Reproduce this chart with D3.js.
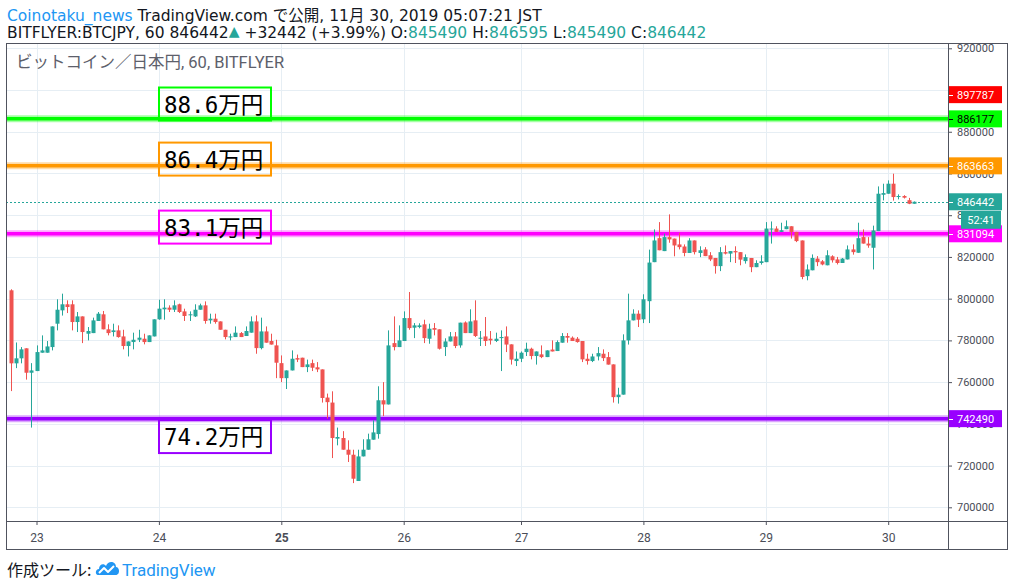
<!DOCTYPE html>
<html><head><meta charset="utf-8">
<script src="https://cdn.jsdelivr.net/npm/d3@7/dist/d3.min.js"></script>
<style>
html,body{margin:0;padding:0;background:#fff;}
svg{display:block;font-family:Roboto,"Noto Sans CJK JP",sans-serif;}
</style></head>
<body>
<script>
// ---------- DATA ----------
const opens = [804000,769000,771400,776200,764500,765300,774100,774100,776800,788000,
794400,797300,797300,788800,791500,783200,783500,789300,792500,785300,
784000,784800,781900,777300,779200,780300,780800,779200,781900,790100,
794900,795700,794700,797300,793900,792100,791500,794700,796800,789600,
790400,789100,785100,781600,781600,783500,782100,783700,789100,776300,
784300,779700,777600,769100,761900,765600,771500,771700,767200,769100,
767100,766100,752600,750200,732900,733200,727600,725200,712600,724400,
727600,732400,735100,751300,749300,778700,776800,779700,790700,786100,
786400,787700,780800,785900,785300,776800,779500,781900,777600,788600,
783500,789600,780800,781900,780800,779700,781100,781900,778100,770100,
771200,774400,776000,772500,773300,772000,775600,774900,778900,782100,
781300,780800,779700,771200,770100,772300,773600,772000,768500,752800,
754000,780000,789600,792800,790100,798800,817500,829000,822800,829500,
828800,826000,825000,821900,827900,821900,823600,820800,819500,815600,
822300,821600,822800,822300,818000,819500,815100,817100,817500,833400,
833600,832000,833300,834700,832000,827900,810800,813600,819200,817900,
816000,820300,818800,817100,818800,823600,822000,829500,826400,824400,
832400,849800,850300,855100,848900,849200,847200,845490];
const highs = [804500,779000,776800,776200,769100,777600,782400,779700,786700,799700,
802400,799200,799200,793600,791500,786400,790900,793600,794100,787700,
788000,787200,785100,779500,783700,785100,783200,782400,790100,799500,
799700,796800,799200,797600,795200,793900,797300,797600,798700,792800,
792800,789100,785100,783200,786700,784000,786700,791500,792000,790900,
786700,783200,780300,772800,765600,775200,773200,771700,770800,770800,
769600,766100,754500,755600,738200,736500,732100,727600,727600,732600,
735300,741700,758000,760000,784800,791500,787200,793900,803200,788300,
788200,789900,788000,788300,785300,781000,784000,784000,788500,789100,
794900,799200,784500,791200,784500,783700,784800,786700,778100,774700,
774700,778900,776500,774700,777600,775200,780000,780000,783500,783500,
781900,781600,779700,773600,773600,776800,775700,774400,768500,757300,
782900,802400,794900,794400,802100,823500,833200,836700,831200,840400,
828800,831600,826000,829000,827900,825100,824700,822300,819500,824700,
825500,822800,825100,822300,821200,819500,818400,820800,836700,837000,
834700,836400,837500,834700,832000,827900,816400,821200,820400,818500,
823200,820800,820000,819500,825500,826000,836400,833200,829500,835000,
853800,855100,856700,859900,850000,849600,848300,846595];
const lows = [755700,766700,769000,761200,738200,765300,774100,774100,775200,784800,
791900,793100,784800,784000,778700,780000,783500,789300,785300,782400,
781900,781300,775700,772300,775700,779200,778100,779200,781900,789900,
789900,793600,793600,793100,789300,789300,791200,794700,788000,788000,
788000,785100,780500,780000,781600,781600,782100,783700,773600,775700,
778900,778000,761900,760000,756700,765600,769600,767200,764800,765300,
764800,750200,742500,723600,729700,727600,721700,711600,712600,724400,
727600,732400,732900,743700,749300,775200,776800,779700,785100,781100,
785800,778700,778400,782400,775600,772500,779500,776300,776500,783500,
783500,781600,777300,777300,778000,779200,765300,774400,768400,767700,
769600,772500,770900,768400,771500,772000,774700,774900,778900,778900,
779700,778900,769600,768400,769600,770400,770100,768400,750200,749700,
754000,778000,789600,786400,788300,788300,817500,823200,822800,826800,
820300,823600,820300,821900,821200,819900,820400,818000,812000,813200,
821200,817500,817100,816000,816800,812700,815100,816300,817500,826400,
832000,832000,833300,828800,827100,809300,808800,813600,815600,816000,
816000,817300,816400,817100,818800,821100,822000,826400,824400,814000,
832400,847100,850300,847000,847600,848000,845300,845490];
const closes = [769000,771400,775700,764500,765600,774400,775200,777100,786700,794700,
797300,796000,788800,791500,784000,784500,789600,792800,785300,783500,
784800,781600,777300,779500,780300,781300,779200,782400,790100,795200,
795700,794700,796800,793600,791700,792500,794700,796800,789300,790400,
788800,785100,781600,781900,783700,781600,784500,789100,776300,784300,
778900,778000,769300,761900,765600,771200,770800,767200,768500,766900,
766100,752400,750400,733200,733700,727600,725200,713700,724400,727600,
732600,735900,751300,749300,777600,776800,780000,790700,785900,787200,
787200,781100,785600,785100,776000,779500,781900,777300,788500,783500,
789100,782100,781300,779700,780000,780800,781600,778000,770800,771200,
774100,776000,772500,774700,772000,775200,774700,779200,782100,781300,
779700,779200,770900,770100,772300,773900,771500,768400,752800,754000,
780000,789600,792800,789900,799700,817300,827900,823200,829500,828400,
825500,824700,821900,827900,822300,823200,820400,818800,815600,822300,
821600,822800,822200,818700,819900,815100,817100,817900,833600,833600,
832000,832800,834700,832000,827600,810400,814000,819500,817500,816400,
820800,818400,817100,819200,823600,822300,829000,826400,825500,832700,
850300,850600,855100,848700,849200,848400,845490,846442];

const yTicks = [700000,720000,740000,760000,780000,800000,820000,840000,860000,880000,900000,920000];
const dayLabels = ["23","24","25","26","27","28","29","30"];
const dayCandle = [5,29,53,77,100,124,148,172];
const weekStartLabel = "25";

const levelValues = [886177, 863663, 831094, 742490];
const levelColors = ["#00ff00", "#ff9800", "#ff00ff", "#9900ff"];
const levelTextColors = ["#000000", "#ffffff", "#ffffff", "#ffffff"];
const noteTexts = ["88.6万円", "86.4万円", "83.1万円", "74.2万円"];
const noteCenters = [893300, 866900, 834300, 733900];
const alertValue = 897787;
const countdown = "52:41";
const change = 32442, changePct = 3.99;

// ---------- LAYOUT ----------
const W = 1014, H = 586;
const L = 6, R = 948, T = 43, B = 521, AXR = 1007, AXB = 549;
const UP = "#26a69a", DN = "#ef5350", GRID = "#e6eef4", BORDER = "#50535e", TXT = "#131722";
const HEADFONT = '"DejaVu Sans","Noto Sans CJK JP",sans-serif';

const n = opens.length;
const svg = d3.select("body").append("svg").attr("width", W).attr("height", H);
svg.append("rect").attr("width", W).attr("height", H).attr("fill", "#fff");

const x = d3.scaleLinear().domain([0, n - 1]).range([11, 913.7]);
const y = d3.scaleLinear().domain([700000, 920000]).range([507.3, 48.3]);

svg.append("clipPath").attr("id", "plot").append("rect")
  .attr("x", L).attr("y", T).attr("width", R - L).attr("height", B - T);
const plot = svg.append("g").attr("clip-path", "url(#plot)");

// grid
plot.selectAll("line.hg").data(yTicks).join("line")
  .attr("x1", L).attr("x2", R)
  .attr("y1", d => Math.round(y(d)) + 0.5).attr("y2", d => Math.round(y(d)) + 0.5)
  .attr("stroke", GRID).attr("stroke-width", 1);
plot.selectAll("line.vg").data(dayCandle).join("line")
  .attr("y1", T).attr("y2", B)
  .attr("x1", d => Math.round(x(d)) + 0.5).attr("x2", d => Math.round(x(d)) + 0.5)
  .attr("stroke", GRID).attr("stroke-width", 1);

// horizontal level lines
levelValues.forEach((v, i) => {
  const yy = y(v);
  plot.append("line").attr("x1", L).attr("x2", R).attr("y1", yy).attr("y2", yy)
    .attr("stroke", levelColors[i]).attr("stroke-opacity", 0.35).attr("stroke-width", 7);
  plot.append("line").attr("x1", L).attr("x2", R).attr("y1", yy).attr("y2", yy)
    .attr("stroke", levelColors[i]).attr("stroke-width", 3.5);
});

// last price dashed line
const lastClose = closes[n - 1];
plot.append("line").attr("x1", L).attr("x2", R)
  .attr("y1", Math.round(y(lastClose)) + 0.5).attr("y2", Math.round(y(lastClose)) + 0.5)
  .attr("stroke", UP).attr("stroke-width", 1).attr("stroke-dasharray", "2,2");

// candles
const idx = d3.range(n);
const candles = plot.append("g");
candles.selectAll("line.wick").data(idx).join("line")
  .attr("x1", i => Math.round(x(i)) + 0.5).attr("x2", i => Math.round(x(i)) + 0.5)
  .attr("y1", i => y(highs[i])).attr("y2", i => y(lows[i]))
  .attr("stroke", i => closes[i] >= opens[i] ? UP : DN).attr("stroke-width", 1);
candles.selectAll("rect.body").data(idx).join("rect")
  .attr("x", i => Math.round(x(i)) - 1.5)
  .attr("width", 4)
  .attr("y", i => Math.min(y(opens[i]), y(closes[i])))
  .attr("height", i => Math.max(1, Math.abs(y(opens[i]) - y(closes[i]))))
  .attr("fill", i => closes[i] >= opens[i] ? UP : DN);

// note boxes
const noteFont = '"DejaVu Sans Mono","Noto Sans CJK JP",monospace';
noteTexts.forEach((t, i) => {
  const cy = y(noteCenters[i]);
  plot.append("rect").attr("x", 159).attr("y", cy - 16.5).attr("width", 112).attr("height", 33)
    .attr("fill", "none").attr("stroke", levelColors[i]).attr("stroke-width", 2);
  plot.append("text").attr("x", 164).attr("y", cy + 8.5).text(t)
    .attr("font-family", noteFont).attr("font-size", 22.5).attr("fill", "#000");
});

// symbol title inside chart
svg.append("text").attr("x", 16).attr("y", 68).text("ビットコイン／日本円, 60, BITFLYER")
  .attr("font-size", 16.5).attr("fill", "#5d606b");

// price-label boxes (value, background, text colour) drawn over the axis
const labelBoxes = [[alertValue, "#ff0000", "#ffffff"]]
  .concat(levelValues.map((v, i) => [v, levelColors[i], levelTextColors[i]]))
  .concat([[lastClose, UP, "#ffffff"]]);
const LBH = 17;

// axes
const yAxis = d3.axisRight(y).tickValues(yTicks).tickSize(4).tickPadding(5).tickFormat(d3.format("d"));
const ya = svg.append("g").attr("transform", `translate(${R},0)`).call(yAxis);
ya.select(".domain").remove();
ya.selectAll("line").attr("stroke", BORDER);
ya.selectAll("text").attr("font-size", 11).attr("fill", "#4a4d57").attr("font-family", "Roboto, sans-serif");
// tick labels fully hidden behind a price-label box are not drawn
ya.selectAll(".tick").filter(d => labelBoxes.some(b => Math.abs(y(b[0]) - y(d)) < 5)).select("text").remove();

const xAxis = d3.axisBottom(x).tickValues(dayCandle).tickSize(4).tickPadding(8)
  .tickFormat((d, i) => dayLabels[i]);
const xa = svg.append("g").attr("transform", `translate(0,${B})`).call(xAxis);
xa.select(".domain").remove();
xa.selectAll("line").attr("stroke", BORDER);
xa.selectAll("text").attr("font-size", 12).attr("fill", "#4a4d57").attr("font-family", "Roboto, sans-serif")
  .attr("font-weight", (d, i) => dayLabels[i] === weekStartLabel ? "bold" : "normal");

// borders
const bd = svg.append("g").attr("stroke", BORDER).attr("stroke-width", 1).attr("fill", "none");
bd.append("rect").attr("x", L + 0.5).attr("y", T + 0.5).attr("width", AXR - L).attr("height", AXB - T);
bd.append("line").attr("x1", R + 0.5).attr("x2", R + 0.5).attr("y1", T).attr("y2", AXB);
bd.append("line").attr("x1", L).attr("x2", AXR).attr("y1", B + 0.5).attr("y2", B + 0.5);

// price labels on axis
labelBoxes.forEach(([v, bg, fg]) => {
  const cy = y(v);
  svg.append("rect").attr("x", R + 1).attr("y", cy - LBH / 2).attr("width", 53).attr("height", LBH).attr("fill", bg);
  svg.append("line").attr("x1", R + 1).attr("x2", R + 5).attr("y1", Math.round(cy) + 0.5).attr("y2", Math.round(cy) + 0.5)
    .attr("stroke", fg).attr("stroke-width", 1);
  svg.append("text").attr("x", R + 9).attr("y", cy + 4).text(v)
    .attr("font-size", 11).attr("fill", fg).attr("font-family", "Roboto, sans-serif");
});
const cdY = y(lastClose) + 9;
svg.append("rect").attr("x", 961).attr("y", cdY).attr("width", 40).attr("height", 18).attr("fill", UP);
svg.append("text").attr("x", 981).attr("y", cdY + 13).attr("text-anchor", "middle").text(countdown)
  .attr("font-size", 11).attr("fill", "#fff").attr("font-family", "Roboto, sans-serif");

// header
const fmt = d3.format("d");
const h1 = svg.append("text").attr("x", 7).attr("y", 21).attr("font-size", 15.5).attr("fill", TXT)
  .attr("font-family", HEADFONT);
h1.append("tspan").text("Coinotaku_news").attr("fill", "#2196f3");
h1.append("tspan").text(" TradingView.com で公開, 11月 30, 2019 05:07:21 JST");

const h2 = svg.append("text").attr("x", 7).attr("y", 38).attr("font-size", 15.5).attr("fill", TXT)
  .attr("font-family", HEADFONT);
h2.append("tspan").text("BITFLYER:BTCJPY, 60 " + fmt(lastClose));
h2.append("tspan").text("▲").attr("fill", UP).attr("font-size", 14).attr("dy", -2);
h2.append("tspan").text(" +" + change + " (+" + changePct + "%) O:").attr("dy", 2);
h2.append("tspan").text(fmt(opens[n - 1])).attr("fill", UP);
h2.append("tspan").text(" H:");
h2.append("tspan").text(fmt(highs[n - 1])).attr("fill", UP);
h2.append("tspan").text(" L:");
h2.append("tspan").text(fmt(lows[n - 1])).attr("fill", UP);
h2.append("tspan").text(" C:");
h2.append("tspan").text(fmt(closes[n - 1])).attr("fill", UP);

// footer
svg.append("text").attr("x", 7).attr("y", 576).text("作成ツール:")
  .attr("font-size", 16).attr("fill", TXT).attr("font-family", '"Noto Sans CJK JP",sans-serif');
const logo = svg.append("g").attr("transform", "translate(95,559)");
logo.append("path")
  .attr("d", "M3,16 C0,16 0,10 4,10 C4,5 9,4 11,7 C13,1 21,2 21,8 C24,8 25,13 23,15 C22,16 21,16 20,16 Z")
  .attr("fill", "#2196f3");
logo.append("path").attr("d", "M4,14 L9,9 L13,13 L19,7").attr("fill", "none")
  .attr("stroke", "#fff").attr("stroke-width", 2).attr("stroke-linejoin", "round");
svg.append("text").attr("x", 122).attr("y", 576).text("TradingView")
  .attr("font-size", 17).attr("fill", "#2196f3");
</script>
</body></html>
